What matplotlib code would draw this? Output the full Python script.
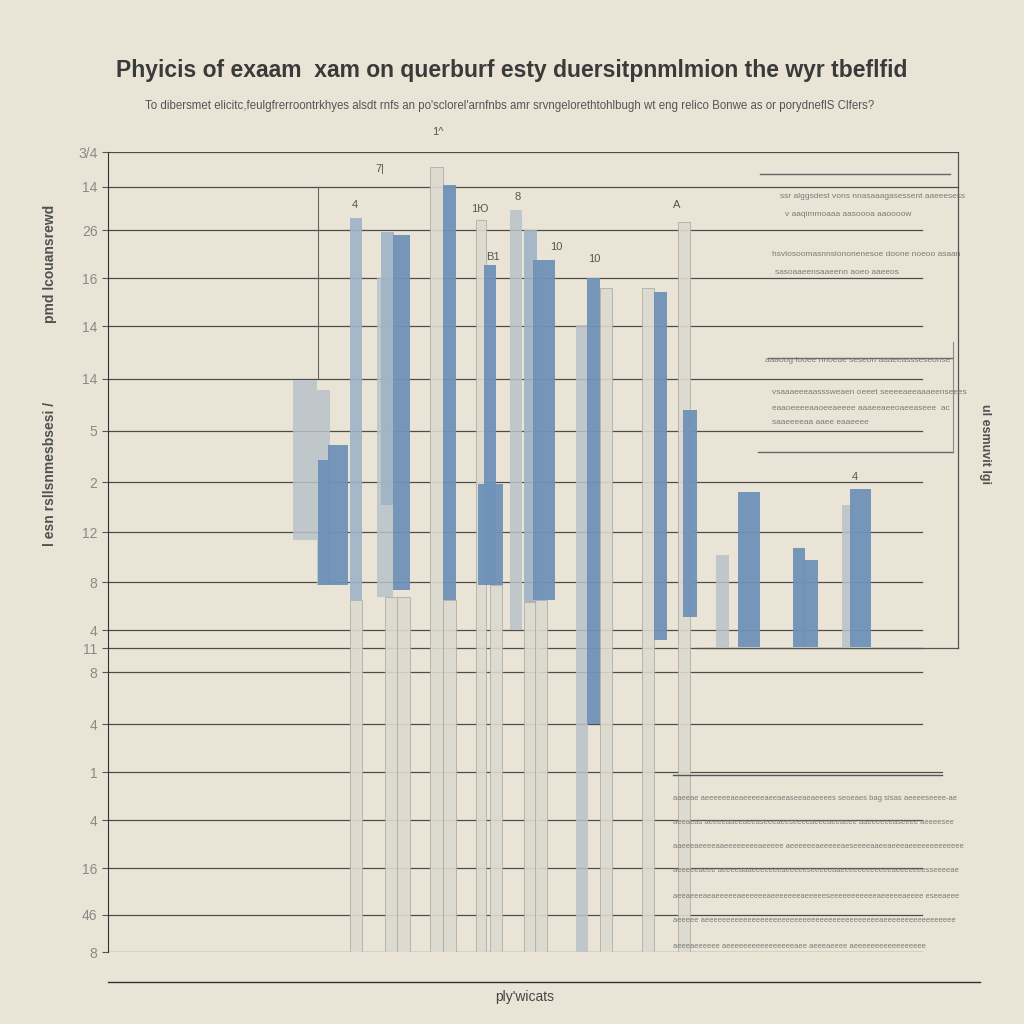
import matplotlib
matplotlib.use("Agg")
import matplotlib.pyplot as plt
import numpy as np

# chart values (x in category units, y in score units)
bar_x = [19.7, 21.55, 21.6, 23.0, 24.8, 24.8, 27.7, 27.9, 29.35, 28.3, 29.55,
         32.85, 34.15, 34.15, 37.3, 38.2, 38.25, 38.8, 40.8, 42.25, 42.25, 43.6,
         43.3, 47.4, 48.55, 49.8, 54.0, 55.25, 57.6, 58.2, 61.45, 64.1, 69.1,
         70.25, 74.0, 75.25]
bar_w = [2.4, 1.3, 1.2, 2.0, 1.2, 1.2, 1.6, 1.3, 1.7, 1.2, 1.3,
         1.3, 1.3, 1.3, 1.0, 1.2, 2.5, 1.2, 1.2, 1.3, 1.3, 2.2,
         1.2, 1.2, 1.3, 1.2, 1.2, 1.3, 1.2, 1.4, 1.3, 2.2, 1.2,
         1.5, 1.2, 2.1]
bar_lo = [8.24, 7.34, 7.34, 7.34, 0.0, 7.04, 7.1, 8.94, 7.24, 0.0, 0.0,
          0.0, 7.04, 0.0, 0.0, 7.34, 7.34, 0.0, 6.44, 7.0, 0.0, 7.04,
          0.0, 0.0, 4.56, 0.0, 0.0, 6.24, 0.0, 6.7, 6.1, 6.1, 6.1,
          6.1, 6.1, 6.1]
bar_hi = [11.44, 11.24, 9.84, 10.14, 7.04, 14.68, 13.48, 14.4, 14.34, 7.1, 7.1,
          15.7, 15.34, 7.04, 14.64, 13.74, 9.36, 7.34, 14.84, 14.44, 7.0, 13.84,
          7.04, 12.54, 13.48, 13.28, 13.28, 13.2, 14.6, 10.84, 7.94, 9.2, 8.08,
          7.84, 8.94, 9.26]
# 0 = pale, 1 = grey, 2 = blue, 3 = grey-blue
bar_kind = [1, 1, 2, 2, 0, 3, 1, 3, 2, 0, 0,
            0, 2, 0, 0, 2, 2, 0, 1, 3, 0, 2,
            0, 1, 2, 0, 0, 2, 0, 2, 1, 2, 2,
            2, 1, 2]

grid_y = [16.0, 15.3, 14.44, 13.48, 12.52, 11.46, 10.42, 9.4, 8.4, 7.4, 6.44,
          6.08, 5.6, 4.56, 3.6, 2.64, 1.68, 0.74, 0.0]
tick_labels = ['3/4', '14', '26', '16', '14', '14', '5', '2', '12', '8', '4',
               '11', '8', '4', '1', '4', '16', '46', '8']
grid_end = [85.0, 85.0, 81.4, 81.4, 81.4, 81.4, 81.4, 81.4, 81.4, 81.4, 81.4,
            81.4, 81.4, 81.4, 83.4, 81.4, 81.4, 81.4, 81.4]

bar_tags = ['1^', '7|', '4', '1\u042e', '8', '10', 'B1', '10', 'A', '4']
tag_x = [33.0, 27.2, 24.7, 37.2, 41.0, 44.8, 38.5, 48.6, 56.9, 74.7]
tag_y = [16.3, 15.55, 14.85, 14.75, 15.0, 14.0, 13.8, 13.75, 14.85, 9.4]

title = "Phyicis of exaam  xam on querburf esty duersitpnmlmion the wyr tbeflfid"
subtitle = ("To dibersmet elicitc,feulgfrerroontrkhyes alsdt rnfs an po'sclorel'arnfnbs "
            "amr srvngelorethtohlbugh wt eng relico Bonwe as or porydneflS Clfers?")

top_notes = [
    "ssr alggsdest vons nnasaaagasessent aaeeesess",
    "v aaqimmoaaa aasoooa aaoooow",
    "hsvlosoomasnnsiononenesoe doone noeoo asaan",
    "sasoaaeensaaeenn aoeo aaeeos",
    "aaaoog looee nnoeae seseon aaaeeassseseonse",
    "vsaaaeeeaasssweaen oeeet seeeeaeeaaaeenseees",
    "eaaoeeeeaaoeeaeeee aaaeeaeeoaeeaseee  ac",
    "saaeeeeaa aaee eaaeeee",
]
top_x = [67.2, 67.7, 66.4, 66.7, 65.7, 66.4, 66.4, 66.4]
top_y = [15.1, 14.75, 13.95, 13.6, 11.84, 11.2, 10.88, 10.58]

low_notes = [
    "aaeeae aeeeeeeaeaeeeeeaeeaeaseeaeaeeees seoeaes bag sisas aeeeeseeee-ae",
    "aeeaeas aeeeeaaeeaeeaseeeaeeseeeeaeeeaeeaeee aaeeeeeeaseeee aeeeesee",
    "aaeeeaeeeeaaeeeeeeeeaeeeee aeeeeeeaeeeeeaeseeeeaaeeaeeeaeeeeeeeeeeeee",
    "aeeeeeaeee aeeeeaaaeeeeeeeaeeeeeseeeeeaaeeeeeeeeeeeeaeeeeeeesseeeeae",
    "aeeaeeeaeaeeeeeaeeeeeeaeeeeeeeaeeeeeseeeeeeeeeeeaeeeeeaeeee eseeaeee",
    "aeeeee aeeeeeeeeeeeeeeeeeeeeeeeeeeeeeeeeeeeeeeeeeaeeeeeeeeeeeeeeeee",
    "aeeeaeeeeee aeeeeeeeeeeeeeeeeaee aeeeaeeee aeeeeeeeeeeeeeeeee",
]
low_y = [3.07, 2.6, 2.1, 1.62, 1.12, 0.63, 0.1]

colors = {0: '#dcd9cf', 1: '#b9c2c9', 2: '#6f92b8', 3: '#9fb3c7'}
alphas = {0: 0.9, 1: 0.85, 2: 0.95, 3: 0.9}
bg = '#e9e4d6'
plt.rcParams['font.family'] = ['Liberation Sans', 'DejaVu Sans']

fig = plt.figure(figsize=(10.24, 10.24), dpi=100, facecolor=bg)
ax = fig.add_axes([108/1024, 72/1024, 852/1024, 800/1024])
ax.set_facecolor(bg)
ax.set_xlim(0, 85.2)
ax.set_ylim(0, 16)

for yv, xe in zip(grid_y, grid_end):
    ax.plot([0, xe], [yv, yv], color='#4d4d4d', lw=0.9, zorder=1)

for x, w, lo, hi, k in zip(bar_x, bar_w, bar_lo, bar_hi, bar_kind):
    ax.bar(x, hi - lo, width=w, bottom=lo, color=colors[k], alpha=alphas[k],
           edgecolor='#a9a9a3' if k == 0 else 'none', lw=0.6, zorder=2)

for t, x, y in zip(bar_tags, tag_x, tag_y):
    ax.text(x, y, t, fontsize=8, color='#555555', ha='center', va='bottom', zorder=3)

# boxes on the right
ax.plot([85.0, 85.0], [16.0, 6.08], color='#555555', lw=0.9, zorder=1)
ax.plot([58.9, 85.0], [6.08, 6.08], color='#555555', lw=0.9, zorder=1)
ax.plot([21.0, 21.0], [15.3, 11.46], color='#666666', lw=0.8, zorder=1)
ax.plot([65.2, 84.2], [15.56, 15.56], color='#666666', lw=1.0, zorder=3)
ax.plot([66.0, 84.5], [11.88, 11.88], color='#666666', lw=1.0, zorder=3)
ax.plot([65.0, 84.5], [10.0, 10.0], color='#666666', lw=1.0, zorder=3)
ax.plot([84.5, 84.5], [12.2, 10.0], color='#888888', lw=0.8, zorder=3)
ax.plot([56.5, 83.4], [3.55, 3.55], color='#555555', lw=1.0, zorder=3)

ax.set_yticks(grid_y)
ax.set_yticklabels(tick_labels, fontsize=10, color='#8a8a86')
ax.set_xticks([])
ax.tick_params(axis='y', length=4, color='#555555')
for s in ['top', 'right', 'bottom']:
    ax.spines[s].set_visible(False)
ax.spines['left'].set_color('#333333')

# annotation text blocks
for t, x, y in zip(top_notes, top_x, top_y):
    ax.text(x, y, t, fontsize=6, color='#7a7a76', ha='left', va='center', zorder=4)
for t, y in zip(low_notes, low_y):
    ax.text(56.5, y, t, fontsize=5.5, color='#7a7a76', ha='left', va='center', zorder=4)

# bottom axis line and label
fig.add_artist(plt.Line2D([108/1024, 980/1024], [42/1024, 42/1024],
                          color='#333333', lw=1.0))
fig.text(525/1024, 27/1024, "ply'wicats", fontsize=10, color='#444444',
         ha='center', va='center')

fig.text(512/1024, 954/1024, title, fontsize=16.5, color='#3a3a3a', ha='center',
         va='center', fontweight='bold')
fig.text(510/1024, 918/1024, subtitle, fontsize=8.3, color='#555555', ha='center',
         va='center')

fig.text(50/1024, 760/1024, "pmd lcouansrewd", fontsize=10, color='#505050',
         rotation=90, ha='center', va='center', fontweight='bold')
fig.text(50/1024, 550/1024, "l esn rsllsnmesbsesi /", fontsize=10, color='#505050',
         rotation=90, ha='center', va='center', fontweight='bold')
fig.text(985/1024, 580/1024, "ul esmuvit lgi", fontsize=9, color='#505050',
         rotation=-90, ha='center', va='center', fontweight='bold')

fig.savefig("out.png", dpi=100, facecolor=bg)
